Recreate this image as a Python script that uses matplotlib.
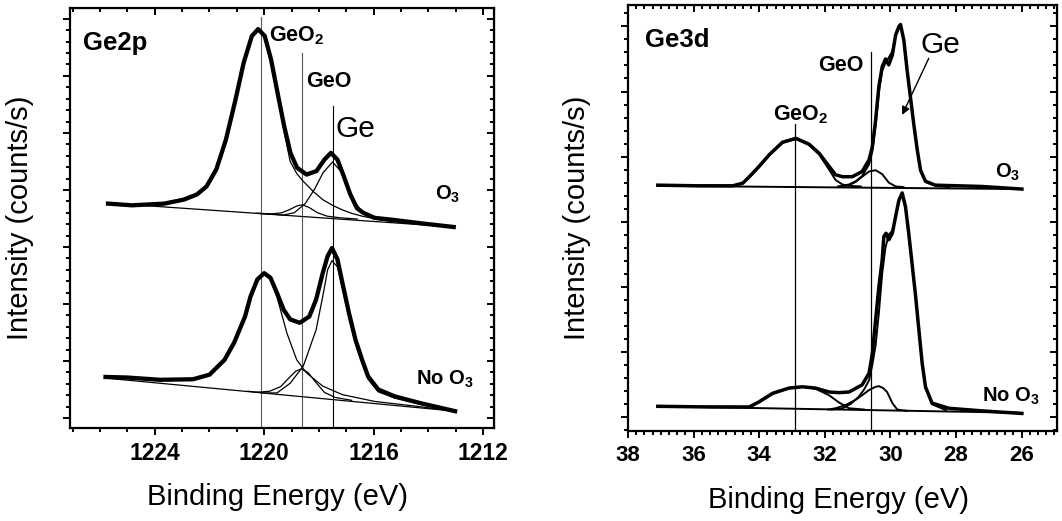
import matplotlib
matplotlib.use("Agg")
import matplotlib.pyplot as plt
from matplotlib.ticker import MultipleLocator, NullFormatter

plt.rcParams['font.family'] = 'Liberation Sans'
plt.rcParams['mathtext.fontset'] = 'custom'
plt.rcParams['mathtext.rm'] = 'Liberation Sans'
plt.rcParams['mathtext.bf'] = 'Liberation Sans:bold'

# ---------------- Ge2p ----------------
# O3 treated sample
ge2p_o3_be = [1225.71, 1224.83, 1223.65, 1222.94, 1222.46, 1222.11, 1221.75, 1221.40, 1221.05,
              1220.75, 1220.45, 1220.22, 1219.98, 1219.75, 1219.51, 1219.27, 1219.04, 1218.80,
              1218.45, 1218.09, 1217.80, 1217.56, 1217.32, 1217.09, 1216.85, 1216.61, 1216.38,
              1215.96, 1215.37, 1214.19, 1213.07]
ge2p_o3_int = [3.76, 3.73, 3.76, 3.83, 3.92, 4.06, 4.36, 4.88, 5.58, 6.23, 6.70, 6.82, 6.70,
               6.29, 5.70, 5.12, 4.65, 4.39, 4.27, 4.33, 4.53, 4.65, 4.53, 4.24, 3.92, 3.68,
               3.60, 3.51, 3.48, 3.41, 3.35]
ge2p_o3_bg_be = [1225.71, 1213.07]
ge2p_o3_bg = [3.77, 3.35]
ge2p_o3_geo2_be = [1225.71, 1224.83, 1223.65, 1222.94, 1222.46, 1222.11, 1221.75, 1221.40,
                   1221.05, 1220.75, 1220.45, 1220.22, 1219.98, 1219.75, 1219.51, 1219.27,
                   1219.05, 1218.80, 1218.57, 1218.20, 1217.86, 1217.50, 1217.14, 1216.80,
                   1216.42, 1215.80, 1215.00, 1214.20, 1213.07]
ge2p_o3_geo2 = [3.76, 3.72, 3.75, 3.82, 3.91, 4.05, 4.35, 4.87, 5.57, 6.22, 6.69, 6.80, 6.68,
                6.26, 5.66, 5.02, 4.50, 4.28, 4.15, 3.97, 3.83, 3.73, 3.65, 3.59, 3.54, 3.48,
                3.43, 3.40, 3.35]
ge2p_o3_geo_be = [1220.3, 1219.7, 1219.35, 1219.05, 1218.8, 1218.6, 1218.35, 1218.05, 1217.7,
                  1217.2, 1216.6]
ge2p_o3_geo = [3.59, 3.58, 3.60, 3.66, 3.72, 3.74, 3.69, 3.60, 3.54, 3.51, 3.49]
ge2p_o3_ge_be = [1220.2, 1219.3, 1218.9, 1218.5, 1218.15, 1217.85, 1217.5, 1217.15, 1216.9,
                 1216.65, 1216.4, 1216.05, 1215.5, 1214.8]
ge2p_o3_ge = [3.59, 3.56, 3.60, 3.76, 4.02, 4.30, 4.49, 4.30, 4.00, 3.77, 3.60, 3.50, 3.46, 3.42]

# untreated sample
ge2p_no_be = [1225.8, 1225.0, 1223.8, 1222.6, 1222.0, 1221.45, 1221.1, 1220.7, 1220.5, 1220.25,
              1220.0, 1219.77, 1219.53, 1219.29, 1219.05, 1218.7, 1218.35, 1218.1, 1217.86,
              1217.68, 1217.52, 1217.32, 1217.14, 1216.9, 1216.66, 1216.42, 1216.2, 1215.83,
              1215.23, 1214.28, 1213.02]
ge2p_no_int = [0.72, 0.71, 0.67, 0.68, 0.76, 1.02, 1.32, 1.78, 2.13, 2.43, 2.54, 2.46, 2.19,
               1.90, 1.73, 1.67, 1.78, 2.08, 2.54, 2.84, 2.98, 2.78, 2.37, 1.84, 1.37, 1.02,
               0.73, 0.50, 0.38, 0.26, 0.12]
ge2p_no_bg_be = [1225.8, 1213.02]
ge2p_no_bg = [0.70, 0.12]
ge2p_no_geo2_be = [1225.8, 1225.0, 1223.8, 1222.6, 1222.0, 1221.45, 1221.1, 1220.7, 1220.5,
                   1220.25, 1220.0, 1219.77, 1219.53, 1219.17, 1218.81, 1218.45, 1217.86,
                   1217.14, 1215.95, 1214.5, 1213.02]
ge2p_no_geo2 = [0.72, 0.71, 0.67, 0.68, 0.76, 1.01, 1.31, 1.76, 2.11, 2.41, 2.52, 2.43, 2.12,
                1.49, 1.02, 0.79, 0.56, 0.41, 0.29, 0.21, 0.12]
ge2p_no_geo_be = [1220.3, 1219.8, 1219.4, 1219.1, 1218.85, 1218.65, 1218.4, 1218.1, 1217.8,
                  1217.4, 1216.8]
ge2p_no_geo = [0.45, 0.47, 0.55, 0.70, 0.82, 0.86, 0.80, 0.62, 0.45, 0.36, 0.31]
ge2p_no_ge_be = [1220.6, 1220.0, 1219.53, 1219.05, 1218.57, 1218.1, 1217.86, 1217.68, 1217.52,
                 1217.32, 1217.14, 1216.9, 1216.66, 1216.42, 1216.2, 1215.83, 1215.23, 1214.28,
                 1213.5]
ge2p_no_ge = [0.47, 0.44, 0.44, 0.61, 0.91, 1.55, 2.13, 2.60, 2.76, 2.65, 2.28, 1.76, 1.30,
              0.97, 0.68, 0.46, 0.35, 0.24, 0.17]

# peak positions (eV) and top of the marker lines
ge2p_lines_be = [1220.1, 1218.6, 1217.5]
ge2p_lines_top = [7.03, 6.40, 5.47]

# ---------------- Ge3d ----------------
ge3d_o3_be = [37.09, 35.82, 34.81, 34.50, 34.30, 34.00, 33.69, 33.29, 32.88, 32.48, 32.17,
              31.87, 31.67, 31.46, 31.16, 30.86, 30.65, 30.55, 30.45, 30.35, 30.25, 30.15,
              30.05, 29.94, 29.84, 29.74, 29.69, 29.59, 29.49, 29.39, 29.29, 29.18, 29.08,
              28.93, 28.63, 27.21, 25.99]
ge3d_o3_int = [3.56, 3.55, 3.55, 3.59, 3.69, 3.85, 4.03, 4.22, 4.28, 4.19, 4.05, 3.85, 3.72,
               3.69, 3.69, 3.77, 3.95, 4.15, 4.56, 5.08, 5.38, 5.50, 5.41, 5.56, 5.87, 6.00,
               6.03, 5.79, 5.33, 4.92, 4.51, 4.10, 3.79, 3.62, 3.56, 3.54, 3.50]
ge3d_o3_bg_be = [37.09, 25.99]
ge3d_o3_bg = [3.55, 3.50]
ge3d_o3_geo2_be = [37.09, 34.81, 34.50, 34.30, 34.00, 33.69, 33.29, 32.88, 32.48, 32.17, 31.87,
                   31.67, 31.46, 31.26, 30.9]
ge3d_o3_geo2 = [3.56, 3.55, 3.59, 3.68, 3.84, 4.02, 4.21, 4.27, 4.18, 4.03, 3.80, 3.64, 3.57,
                3.55, 3.54]
ge3d_o3_geo_be = [31.46, 31.26, 31.06, 30.86, 30.65, 30.45, 30.25, 30.05, 29.84, 29.6]
ge3d_o3_geo = [3.54, 3.56, 3.61, 3.69, 3.77, 3.79, 3.73, 3.60, 3.54, 3.53]
ge3d_o3_ge_be = [31.6, 31.26, 31.06, 30.86, 30.65, 30.55, 30.45, 30.35, 30.25, 30.15, 30.05,
                 29.94, 29.84, 29.74, 29.69, 29.59, 29.49, 29.39, 29.29, 29.18, 29.08, 28.93,
                 28.63, 28.2]
ge3d_o3_ge = [3.54, 3.57, 3.62, 3.70, 3.88, 4.08, 4.48, 5.00, 5.32, 5.44, 5.52, 5.62, 5.85,
              5.98, 6.01, 5.78, 5.32, 4.91, 4.50, 4.09, 3.78, 3.61, 3.55, 3.53]

ge3d_no_be = [37.09, 35.5, 34.30, 34.00, 33.59, 33.09, 32.68, 32.28, 31.87, 31.57, 31.26, 30.86,
              30.65, 30.55, 30.45, 30.35, 30.25, 30.20, 30.13, 30.05, 29.94, 29.84, 29.74,
              29.64, 29.54, 29.44, 29.34, 29.23, 29.13, 29.03, 28.93, 28.73, 28.22, 27.21, 25.99]
ge3d_no_int = [0.16, 0.15, 0.15, 0.23, 0.36, 0.44, 0.46, 0.44, 0.38, 0.37, 0.38, 0.49, 0.67,
               0.97, 1.49, 2.00, 2.41, 2.77, 2.82, 2.72, 2.82, 3.08, 3.33, 3.44, 3.23, 2.82,
               2.36, 1.85, 1.33, 0.82, 0.46, 0.21, 0.13, 0.09, 0.05]
ge3d_no_bg_be = [37.09, 25.99]
ge3d_no_bg = [0.16, 0.06]
ge3d_no_geo2_be = [37.09, 34.30, 34.00, 33.59, 33.09, 32.68, 32.28, 31.87, 31.57, 31.26, 30.8]
ge3d_no_geo2 = [0.16, 0.15, 0.22, 0.35, 0.44, 0.46, 0.43, 0.33, 0.22, 0.13, 0.11]
ge3d_no_geo_be = [31.9, 31.67, 31.36, 31.06, 30.86, 30.65, 30.45, 30.35, 30.22, 30.10, 29.94,
                  29.79, 29.5]
ge3d_no_geo = [0.11, 0.13, 0.18, 0.26, 0.33, 0.41, 0.46, 0.47, 0.44, 0.38, 0.21, 0.11, 0.09]
ge3d_no_ge_be = [31.8, 31.46, 31.2, 30.96, 30.8, 30.65, 30.55, 30.45, 30.35, 30.25, 30.15,
                 30.05, 29.94, 29.84, 29.74, 29.64, 29.54, 29.44, 29.34, 29.23, 29.13, 29.03,
                 28.93, 28.73, 28.3]
ge3d_no_ge = [0.11, 0.13, 0.20, 0.31, 0.42, 0.56, 0.80, 1.10, 1.60, 2.20, 2.60, 2.80, 2.86,
              3.06, 3.31, 3.42, 3.21, 2.80, 2.34, 1.83, 1.31, 0.80, 0.44, 0.19, 0.10]

ge3d_lines_be = [32.9, 30.6]
ge3d_lines_top = [4.50, 5.60]


def style_axes(ax, xmajor, xminor, ymajor, yminor, ticksize):
    for s in ax.spines.values():
        s.set_linewidth(1.6)
    ax.xaxis.set_major_locator(MultipleLocator(xmajor))
    ax.xaxis.set_minor_locator(MultipleLocator(xminor))
    ax.yaxis.set_major_locator(MultipleLocator(ymajor))
    ax.yaxis.set_minor_locator(MultipleLocator(yminor))
    ax.yaxis.set_major_formatter(NullFormatter())
    ax.tick_params(which='both', direction='out', width=1.4)
    ax.tick_params(which='major', length=5, pad=5)
    ax.tick_params(which='minor', length=3)
    for lab in ax.get_xticklabels():
        lab.set_fontweight('bold')
        lab.set_fontsize(ticksize)
    # inward ticks on the top and right frame
    top = ax.secondary_xaxis('top')
    top.xaxis.set_major_locator(MultipleLocator(xmajor))
    top.xaxis.set_minor_locator(MultipleLocator(xminor))
    top.tick_params(which='both', direction='in', width=1.4, labeltop=False)
    top.tick_params(which='major', length=5)
    top.tick_params(which='minor', length=3)
    right = ax.secondary_yaxis('right')
    right.yaxis.set_major_locator(MultipleLocator(ymajor))
    right.yaxis.set_minor_locator(MultipleLocator(yminor))
    right.tick_params(which='both', direction='in', width=1.4, labelright=False)
    right.tick_params(which='major', length=5)
    right.tick_params(which='minor', length=3)
    ax.set_xlabel('Binding Energy (eV)', fontsize=21)
    ax.set_ylabel('Intensity (counts/s)', fontsize=21)


fig = plt.figure(figsize=(10.62, 5.21), dpi=100)

# ---- left panel: Ge2p ----
ax1 = fig.add_axes([0.0659, 0.1785, 0.3992, 0.8061])
ax1.set_xlim(1227.1, 1211.6)
ax1.set_ylim(-0.175, 7.19)

for be, top, c in zip(ge2p_lines_be, ge2p_lines_top, ['0.35', '0.35', 'black']):
    ax1.plot([be, be], [-0.175, top], color=c, lw=0.8)

for bx, by in [(ge2p_o3_bg_be, ge2p_o3_bg), (ge2p_o3_geo2_be, ge2p_o3_geo2),
               (ge2p_o3_geo_be, ge2p_o3_geo), (ge2p_o3_ge_be, ge2p_o3_ge),
               (ge2p_no_bg_be, ge2p_no_bg), (ge2p_no_geo2_be, ge2p_no_geo2),
               (ge2p_no_geo_be, ge2p_no_geo), (ge2p_no_ge_be, ge2p_no_ge)]:
    ax1.plot(bx, by, color='black', lw=0.9)
ax1.plot(ge2p_o3_be, ge2p_o3_int, color='black', lw=3.1, solid_joinstyle='round')
ax1.plot(ge2p_no_be, ge2p_no_int, color='black', lw=3.1, solid_joinstyle='round')

ax1.text(0.031, 0.90, 'Ge2p', transform=ax1.transAxes, fontsize=18.5, fontweight='bold')
ax1.text(1219.82, 6.61, r'GeO$_\mathbf{2}$', fontsize=15.5, fontweight='bold')
ax1.text(1218.45, 5.81, 'GeO', fontsize=15.5, fontweight='bold')
ax1.text(1217.38, 4.93, 'Ge', fontsize=21.5)
ax1.text(1213.3, 3.83, r'O$_\mathbf{3}$', fontsize=14.5, fontweight='bold', ha='center')
ax1.text(1214.46, 0.58, r'No O$_\mathbf{3}$', fontsize=14.5, fontweight='bold')

style_axes(ax1, 4, 1, 1, 0.2, 16.5)
ax1.xaxis.set_label_coords(0.49, -0.13)
ax1.yaxis.set_label_coords(-0.085, 0.5)

# ---- right panel: Ge3d ----
ax2 = fig.add_axes([0.5913, 0.1727, 0.4040, 0.8177])
ax2.set_xlim(38, 24.92)
ax2.set_ylim(-0.22, 6.33)

for be, top in zip(ge3d_lines_be, ge3d_lines_top):
    ax2.plot([be, be], [-0.22, top], color='black', lw=0.9)

for bx, by in [(ge3d_o3_bg_be, ge3d_o3_bg), (ge3d_o3_geo2_be, ge3d_o3_geo2),
               (ge3d_o3_geo_be, ge3d_o3_geo), (ge3d_o3_ge_be, ge3d_o3_ge),
               (ge3d_no_bg_be, ge3d_no_bg), (ge3d_no_geo2_be, ge3d_no_geo2),
               (ge3d_no_geo_be, ge3d_no_geo), (ge3d_no_ge_be, ge3d_no_ge)]:
    ax2.plot(bx, by, color='black', lw=1.4)
ax2.plot(ge3d_o3_be, ge3d_o3_int, color='black', lw=2.5, solid_joinstyle='round')
ax2.plot(ge3d_no_be, ge3d_no_int, color='black', lw=2.5, solid_joinstyle='round')

ax2.text(0.04, 0.902, 'Ge3d', transform=ax2.transAxes, fontsize=18.5, fontweight='bold')
ax2.text(33.59, 4.55, r'GeO$_\mathbf{2}$', fontsize=15.5, fontweight='bold')
ax2.text(30.81, 5.31, 'GeO', fontsize=15.5, fontweight='bold', ha='right')
ax2.text(29.08, 5.59, 'Ge', fontsize=21.5)
ax2.annotate('', xy=(29.64, 4.64), xytext=(28.83, 5.51),
             arrowprops=dict(arrowstyle='-|>', color='black', lw=1.0, mutation_scale=12,
                             shrinkA=0, shrinkB=0))
ax2.text(26.80, 3.67, r'O$_\mathbf{3}$', fontsize=14.5, fontweight='bold')
ax2.text(27.21, 0.23, r'No O$_\mathbf{3}$', fontsize=14.5, fontweight='bold')

style_axes(ax2, 2, 0.25, 1, 0.2, 16)
ax2.xaxis.set_label_coords(0.49, -0.13)
ax2.yaxis.set_label_coords(-0.086, 0.5)

fig.savefig('out.png', dpi=100)
